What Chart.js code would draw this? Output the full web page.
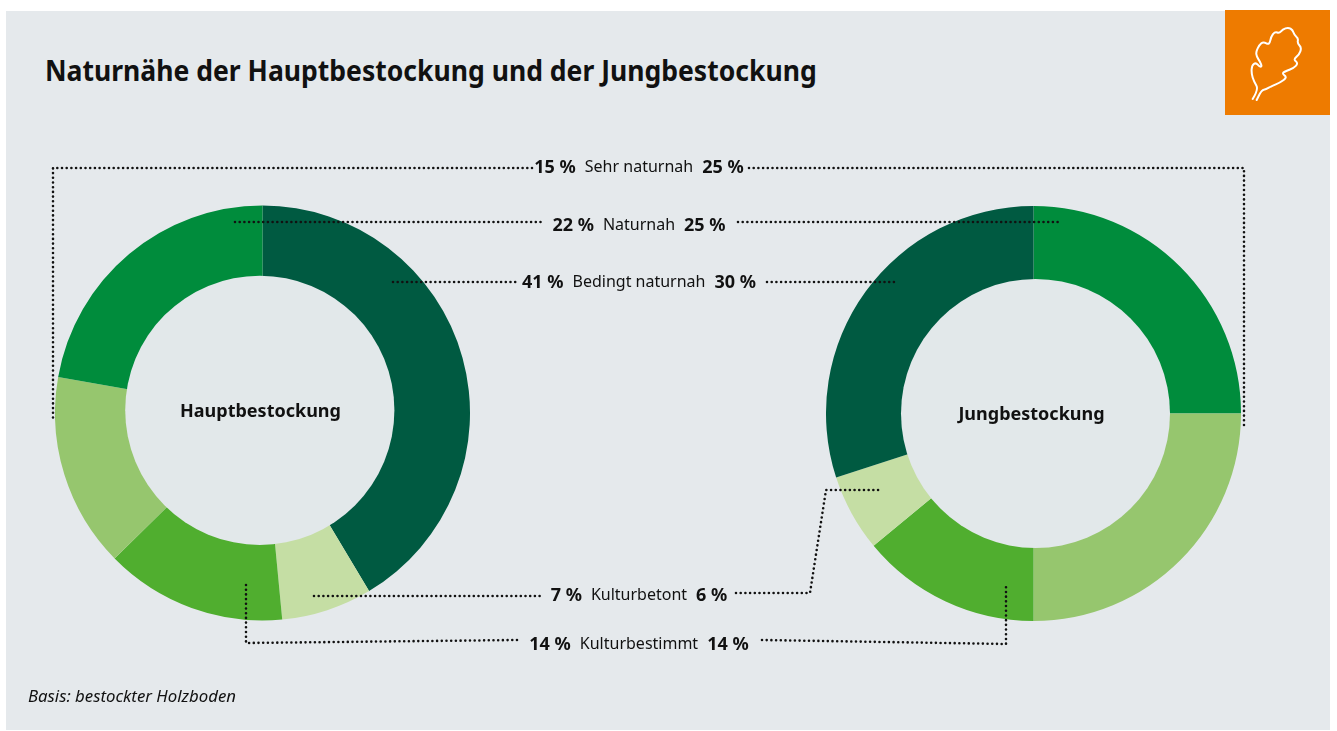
<!DOCTYPE html>
<html lang="de">
<head>
<meta charset="utf-8">
<title>Naturnähe der Hauptbestockung und der Jungbestockung</title>
<script src="https://cdn.jsdelivr.net/npm/chart.js@4"></script>
<style>
  html, body { margin: 0; background: #fff; }
  body { width: 1337px; height: 731px; position: relative; overflow: hidden; font-family: "Noto Sans", sans-serif; color: #111; }
  #panel { position: absolute; left: 6px; top: 11px; width: 1324px; height: 719px; background: #e5e9ec; }
  #badge { position: absolute; left: 1225px; top: 10px; width: 105px; height: 105px; background: #ee7b00; }
  h1 { position: absolute; left: 45px; top: 50px; margin: 0; font-size: 29px; line-height: 40px; font-weight: 700; white-space: nowrap; transform: scaleX(0.915); transform-origin: left center; }
  canvas { position: absolute; }
  svg { position: absolute; left: 0; top: 0; }
  .row { position: absolute; left: 339px; width: 600px; display: flex; justify-content: center; gap: 9px; font-size: 16px; line-height: 22px; white-space: nowrap; }
  .row b { font-size: 18px; }
  .center { position: absolute; transform: translate(-50%, -50%); font-size: 18px; font-weight: 700; white-space: nowrap; }
  #note { position: absolute; left: 28px; top: 685px; font-size: 16.8px; line-height: 22px; font-style: italic; white-space: nowrap; }
</style>
</head>
<body>
<div id="panel"></div>
<div id="badge"></div>
<h1>Naturnähe der Hauptbestockung und der Jungbestockung</h1>
<canvas id="haupt" width="415" height="416" style="left:55px;top:205px"></canvas>
<canvas id="jung" width="415" height="415" style="left:826px;top:206px"></canvas>
<div class="center" style="left:260.5px;top:410px">Hauptbestockung</div>
<div class="center" style="left:1031.5px;top:413px">Jungbestockung</div>
<svg id="lines" width="1337" height="731"></svg>
<div id="note">Basis: bestockter Holzboden</div>
<script>
// order = clockwise from 12 o'clock in each ring
const hauptLabels = ['Bedingt naturnah', 'Kulturbetont', 'Kulturbestimmt', 'Sehr naturnah', 'Naturnah'];
const hauptValues = [41, 7, 14, 15, 22];
const hauptColors = ['#005a41', '#c5dea4', '#50ae2f', '#96c66e', '#008c3c'];

const jungLabels = ['Naturnah', 'Sehr naturnah', 'Kulturbestimmt', 'Kulturbetont', 'Bedingt naturnah'];
const jungValues = [25, 25, 14, 6, 30];
const jungColors = ['#008c3c', '#96c66e', '#50ae2f', '#c5dea4', '#005a41'];

// middle column, top to bottom
const rowLabels = ['Sehr naturnah', 'Naturnah', 'Bedingt naturnah', 'Kulturbetont', 'Kulturbestimmt'];
const rowTops = [155, 213, 270, 583, 632];

// dotted leader lines
const leaders = [
  [[532, 168], [53, 168], [53, 418]],
  [[749, 168], [1244, 168], [1244, 426]],
  [[235, 222], [541, 222]],
  [[738, 222], [1061, 222]],
  [[393, 282], [517, 282]],
  [[767, 282], [897, 282]],
  [[314, 596], [541, 596]],
  [[736, 593], [810, 593], [826, 490], [880, 490]],
  [[246, 585], [246, 643], [518, 640]],
  [[762, 640], [1006, 644], [1006, 587]]
];

// oak leaf outline in the badge, 1/3 px
const leaf = [[218,297],[236,268],[222,245],[214,220],[216,195],[228,188],[238,200],[246,200],[240,185],[230,170],[228,155],[238,135],[250,125],[268,135],[273,110],[285,95],[298,100],[308,88],[325,82],[338,90],[343,105],[355,115],[352,130],[365,143],[357,165],[340,178],[355,190],[340,205],[320,212],[305,220],[322,232],[300,248],[275,258],[258,268],[245,270],[230,300]];

// the hole sits a little off centre in the original, so it's painted on top
const holePlugin = {
  id: 'hole',
  afterDraw(chart, args, opts) {
    const ctx = chart.ctx;
    const meta = chart.getDatasetMeta(0).data[0];
    ctx.save();
    ctx.fillStyle = '#e2e8ea';
    ctx.beginPath();
    ctx.arc(meta.x + opts.dx, meta.y + opts.dy, opts.r, 0, Math.PI * 2);
    ctx.fill();
    ctx.restore();
  }
};

function makeRing(id, labels, values, colors, hole) {
  return new Chart(document.getElementById(id), {
    type: 'doughnut',
    data: {
      labels: labels,
      datasets: [{ data: values, backgroundColor: colors, borderWidth: 0 }]
    },
    options: {
      responsive: false,
      animation: false,
      cutout: '50%',
      plugins: { legend: { display: false }, tooltip: { enabled: false }, hole: hole }
    },
    plugins: [holePlugin]
  });
}

makeRing('haupt', hauptLabels, hauptValues, hauptColors, { dx: -2.7, dy: -2.7, r: 134.6 });
makeRing('jung', jungLabels, jungValues, jungColors, { dx: 2, dy: 0, r: 134.5 });

const NS = 'http://www.w3.org/2000/svg';
const svg = document.getElementById('lines');

leaders.forEach(pts => {
  const p = document.createElementNS(NS, 'polyline');
  p.setAttribute('points', pts.map(a => a.join(',')).join(' '));
  p.setAttribute('fill', 'none');
  p.setAttribute('stroke', '#111');
  p.setAttribute('stroke-width', '2.6');
  p.setAttribute('stroke-linecap', 'round');
  p.setAttribute('stroke-dasharray', '0 4.7');
  svg.appendChild(p);
});

// leaf, smoothed through the midpoints
const lp = leaf.map(a => [1180 + a[0] / 3, a[1] / 3]);
let d = `M${lp[0][0]} ${lp[0][1]}`;
for (let i = 1; i < lp.length - 1; i++) {
  const mx = (lp[i][0] + lp[i + 1][0]) / 2, my = (lp[i][1] + lp[i + 1][1]) / 2;
  d += ` Q${lp[i][0]} ${lp[i][1]} ${mx} ${my}`;
}
d += ` L${lp[lp.length - 1][0]} ${lp[lp.length - 1][1]}`;
const lf = document.createElementNS(NS, 'path');
lf.setAttribute('d', d);
lf.setAttribute('fill', 'none');
lf.setAttribute('stroke', '#fff');
lf.setAttribute('stroke-width', '2');
lf.setAttribute('stroke-linecap', 'round');
lf.setAttribute('stroke-linejoin', 'round');
svg.appendChild(lf);

// percentages come straight from the rings
rowLabels.forEach((name, i) => {
  const row = document.createElement('div');
  row.className = 'row';
  row.style.top = rowTops[i] + 'px';
  const h = hauptValues[hauptLabels.indexOf(name)];
  const j = jungValues[jungLabels.indexOf(name)];
  row.innerHTML = `<b>${h} %</b><span>${name}</span><b>${j} %</b>`;
  document.body.appendChild(row);
});
</script>
</body>
</html>
